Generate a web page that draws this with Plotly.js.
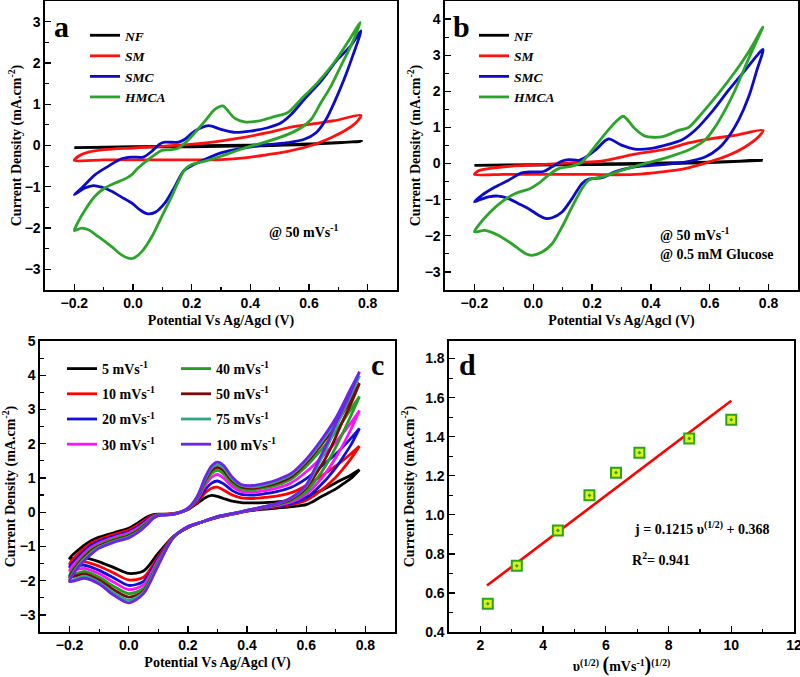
<!DOCTYPE html>
<html><head><meta charset="utf-8">
<script src="https://cdn.plot.ly/plotly-3.0.1.min.js"></script>
<style>html,body{margin:0;padding:0;background:#fff;} #chart{width:800px;height:677px;}</style>
</head><body><div id="chart"></div>
<script>
// ---------- Panel a (50 mV/s) ----------
const aNFx = [-0.2, 0.0, 0.2, 0.4, 0.6, 0.78, 0.6, 0.4, 0.2, 0.0, -0.2];
const aNFy = [-0.05, -0.03, -0.01, 0.01, 0.04, 0.1, 0.03, -0.01, -0.03, -0.04, -0.05];
const aSMx = [-0.2, -0.186, -0.152, -0.096, 0.0, 0.1, 0.232, 0.345, 0.459, 0.528, 0.607, 0.686, 0.777,
  0.76, 0.72, 0.675, 0.607, 0.528, 0.459, 0.38, 0.30, 0.2, 0.1, 0.0, -0.1, -0.2];
const aSMy = [-0.36, -0.26, -0.16, -0.10, -0.06, -0.02, 0.05, 0.16, 0.31, 0.43, 0.52, 0.60, 0.73,
  0.55, 0.35, 0.19, 0.0, -0.14, -0.22, -0.30, -0.34, -0.35, -0.35, -0.35, -0.35, -0.36];
const aSMCx = [-0.2, -0.175, -0.13, -0.084, -0.039, -0.005, 0.035, 0.064, 0.092, 0.109, 0.155, 0.177, 0.211, 0.257, 0.30, 0.345, 0.40, 0.459, 0.505, 0.539, 0.584, 0.641, 0.698, 0.743, 0.777,
  0.749, 0.72, 0.686, 0.658, 0.624, 0.584, 0.528, 0.459, 0.38, 0.30, 0.232, 0.2, 0.172, 0.143, 0.109, 0.075, 0.047, 0.024, -0.005, -0.039, -0.073, -0.107, -0.135, -0.164, -0.2];
const aSMCy = [-1.19, -1.03, -0.71, -0.50, -0.32, -0.28, -0.28, -0.14, 0.04, 0.08, 0.08, 0.15, 0.35, 0.48, 0.39, 0.32, 0.35, 0.43, 0.55, 0.75, 1.12, 1.56, 2.09, 2.42, 2.78,
  2.17, 1.61, 1.04, 0.63, 0.31, 0.15, 0.07, 0.02, -0.06, -0.18, -0.38, -0.49, -0.62, -0.99, -1.39, -1.62, -1.65, -1.56, -1.39, -1.25, -1.11, -1.01, -0.97, -1.03, -1.19];
const aHMCAx = [-0.2, -0.186, -0.164, -0.13, -0.096, -0.061, -0.022, -0.005, 0.018, 0.052, 0.075, 0.098, 0.132, 0.155, 0.177, 0.211, 0.245, 0.28, 0.306, 0.345, 0.38, 0.425, 0.482, 0.528, 0.573, 0.63, 0.686, 0.732, 0.775,
  0.743, 0.709, 0.675, 0.641, 0.607, 0.573, 0.528, 0.459, 0.38, 0.30, 0.245, 0.2, 0.177, 0.155, 0.132, 0.098, 0.064, 0.03, 0.001, -0.016, -0.039, -0.073, -0.118, -0.152, -0.175, -0.2];
const aHMCAy = [-2.06, -1.84, -1.57, -1.23, -1.03, -0.91, -0.79, -0.71, -0.54, -0.34, -0.22, -0.12, -0.10, -0.06, 0.06, 0.31, 0.59, 0.88, 0.96, 0.67, 0.57, 0.59, 0.70, 0.80, 1.12, 1.53, 2.01, 2.50, 2.98,
  2.42, 1.93, 1.44, 1.04, 0.63, 0.43, 0.27, 0.10, -0.06, -0.26, -0.38, -0.46, -0.58, -0.87, -1.23, -1.72, -2.21, -2.57, -2.73, -2.73, -2.65, -2.45, -2.21, -2.04, -2.00, -2.06];

// ---------- Panel b (50 mV/s, 0.5 mM glucose) ----------
const bNFx = [-0.2, 0.0, 0.2, 0.4, 0.6, 0.78, 0.6, 0.4, 0.2, 0.0, -0.2];
const bNFy = [-0.05, -0.03, -0.01, 0.01, 0.04, 0.09, 0.03, -0.01, -0.03, -0.04, -0.05];
const bSMx = [-0.2, -0.186, -0.152, -0.073, 0.041, 0.155, 0.232, 0.345, 0.459, 0.528, 0.607, 0.686, 0.781,
  0.766, 0.72, 0.664, 0.596, 0.516, 0.437, 0.345, 0.266, 0.2, 0.1, 0.0, -0.1, -0.2];
const bSMy = [-0.30, -0.20, -0.14, -0.07, -0.02, 0.03, 0.07, 0.26, 0.41, 0.57, 0.69, 0.78, 0.92,
  0.74, 0.46, 0.23, 0.04, -0.14, -0.23, -0.30, -0.31, -0.30, -0.30, -0.30, -0.30, -0.30];
const bSMCx = [-0.2, -0.175, -0.13, -0.084, -0.039, -0.005, 0.035, 0.064, 0.098, 0.121, 0.155, 0.177, 0.211, 0.255, 0.30, 0.345, 0.402, 0.459, 0.505, 0.55, 0.607, 0.664, 0.72, 0.781,
  0.76, 0.732, 0.698, 0.664, 0.63, 0.584, 0.516, 0.437, 0.345, 0.277, 0.234, 0.189, 0.166, 0.132, 0.098, 0.064, 0.041, 0.018, -0.016, -0.05, -0.084, -0.118, -0.152, -0.181, -0.2];
const bSMCy = [-1.06, -0.88, -0.65, -0.46, -0.26, -0.23, -0.22, -0.09, 0.07, 0.11, 0.09, 0.17, 0.37, 0.68, 0.51, 0.40, 0.42, 0.53, 0.65, 0.92, 1.43, 2.03, 2.58, 3.16,
  2.58, 1.84, 1.20, 0.74, 0.42, 0.18, 0.04, -0.03, -0.09, -0.23, -0.39, -0.43, -0.55, -0.97, -1.34, -1.50, -1.52, -1.43, -1.25, -1.11, -0.97, -0.90, -0.92, -1.0, -1.06];
const bHMCAx = [-0.2, -0.186, -0.152, -0.107, -0.061, -0.01, 0.018, 0.052, 0.086, 0.132, 0.166, 0.2, 0.245, 0.28, 0.306, 0.345, 0.38, 0.437, 0.494, 0.528, 0.573, 0.63, 0.686, 0.732, 0.781,
  0.755, 0.72, 0.686, 0.652, 0.618, 0.584, 0.539, 0.459, 0.38, 0.30, 0.234, 0.189, 0.166, 0.132, 0.098, 0.064, 0.03, -0.005, -0.027, -0.073, -0.118, -0.164, -0.2];
const bHMCAy = [-1.89, -1.71, -1.39, -1.06, -0.83, -0.69, -0.55, -0.32, -0.14, -0.07, 0.05, 0.37, 0.83, 1.15, 1.31, 0.97, 0.76, 0.74, 0.92, 1.0, 1.39, 1.94, 2.54, 3.09, 3.78,
  3.32, 2.68, 2.03, 1.48, 1.01, 0.65, 0.42, 0.18, 0.0, -0.19, -0.37, -0.46, -0.69, -1.2, -1.75, -2.22, -2.45, -2.54, -2.49, -2.22, -1.99, -1.85, -1.89];

// ---------- Panel c (HMCA at scan rates) ----------
const cRates = ['5', '10', '20', '30', '40', '50', '75', '100'];
const cUpX = [-0.2, -0.17, -0.13, -0.1, -0.05, 0.0, 0.03, 0.06, 0.08, 0.1, 0.13, 0.16, 0.2, 0.23, 0.26, 0.28, 0.3, 0.32, 0.35, 0.38, 0.42, 0.46, 0.5, 0.55, 0.6, 0.65, 0.7, 0.75, 0.78];
const cLoX = [0.78, 0.75, 0.72, 0.7, 0.67, 0.65, 0.62, 0.6, 0.55, 0.5, 0.45, 0.4, 0.35, 0.3, 0.25, 0.2, 0.15, 0.1, 0.05, 0.0, -0.05, -0.1, -0.15, -0.2];
const cUp5   = [-1.35, -1.10, -0.85, -0.73, -0.60, -0.47, -0.32, -0.15, -0.08, -0.06, -0.06, -0.03, 0.08, 0.25, 0.43, 0.49, 0.46, 0.40, 0.32, 0.28, 0.27, 0.28, 0.30, 0.35, 0.44, 0.63, 0.86, 1.08, 1.24];
const cUp10  = [-1.51, -1.20, -0.92, -0.80, -0.65, -0.52, -0.38, -0.20, -0.10, -0.07, -0.06, -0.03, 0.08, 0.28, 0.58, 0.70, 0.73, 0.65, 0.50, 0.42, 0.40, 0.43, 0.47, 0.57, 0.78, 1.05, 1.35, 1.70, 1.93];
const cUp20  = [-1.60, -1.30, -0.98, -0.85, -0.70, -0.57, -0.43, -0.24, -0.12, -0.07, -0.07, -0.04, 0.09, 0.32, 0.68, 0.85, 0.91, 0.83, 0.63, 0.52, 0.50, 0.54, 0.60, 0.73, 0.98, 1.33, 1.70, 2.15, 2.45];
const cUp30  = [-1.70, -1.38, -1.05, -0.90, -0.74, -0.61, -0.47, -0.28, -0.14, -0.08, -0.07, -0.04, 0.09, 0.35, 0.80, 1.02, 1.10, 1.00, 0.75, 0.61, 0.58, 0.63, 0.70, 0.86, 1.18, 1.58, 2.05, 2.60, 2.97];
const cUp40  = [-1.85, -1.45, -1.10, -0.95, -0.78, -0.65, -0.51, -0.31, -0.16, -0.08, -0.07, -0.04, 0.10, 0.38, 0.88, 1.13, 1.22, 1.12, 0.84, 0.68, 0.65, 0.71, 0.79, 0.97, 1.34, 1.82, 2.35, 3.00, 3.38];
const cUp50  = [-1.90, -1.50, -1.15, -0.99, -0.82, -0.69, -0.55, -0.34, -0.18, -0.09, -0.08, -0.04, 0.10, 0.40, 0.95, 1.22, 1.31, 1.22, 0.91, 0.74, 0.70, 0.76, 0.85, 1.04, 1.44, 1.96, 2.55, 3.30, 3.77];
const cUp75  = [-2.00, -1.55, -1.20, -1.02, -0.85, -0.72, -0.58, -0.36, -0.19, -0.09, -0.08, -0.04, 0.11, 0.42, 1.00, 1.29, 1.39, 1.30, 0.97, 0.78, 0.74, 0.80, 0.90, 1.10, 1.50, 2.03, 2.67, 3.50, 3.99];
const cUp100 = [-2.03, -1.60, -1.25, -1.05, -0.88, -0.75, -0.60, -0.38, -0.20, -0.10, -0.08, -0.04, 0.12, 0.44, 1.05, 1.35, 1.46, 1.37, 1.02, 0.81, 0.78, 0.84, 0.94, 1.14, 1.55, 2.10, 2.75, 3.60, 4.10];
const cLo5   = [1.24, 0.98, 0.80, 0.68, 0.54, 0.45, 0.30, 0.22, 0.16, 0.12, 0.08, 0.03, -0.06, -0.15, -0.28, -0.45, -0.72, -1.20, -1.72, -1.79, -1.62, -1.45, -1.33, -1.35];
const cLo10  = [1.93, 1.55, 1.22, 1.02, 0.78, 0.64, 0.45, 0.35, 0.22, 0.15, 0.10, 0.03, -0.06, -0.15, -0.28, -0.45, -0.72, -1.30, -1.90, -1.98, -1.78, -1.58, -1.45, -1.51];
const cLo20  = [2.45, 1.95, 1.55, 1.30, 0.98, 0.80, 0.55, 0.42, 0.25, 0.17, 0.11, 0.04, -0.05, -0.14, -0.28, -0.44, -0.73, -1.35, -2.02, -2.14, -1.92, -1.70, -1.55, -1.60];
const cLo30  = [2.97, 2.40, 1.90, 1.60, 1.20, 0.97, 0.68, 0.52, 0.30, 0.19, 0.12, 0.04, -0.05, -0.14, -0.28, -0.44, -0.73, -1.40, -2.12, -2.26, -2.05, -1.80, -1.64, -1.70];
const cLo40  = [3.38, 2.80, 2.25, 1.90, 1.42, 1.15, 0.80, 0.60, 0.34, 0.21, 0.13, 0.05, -0.05, -0.14, -0.28, -0.43, -0.74, -1.45, -2.22, -2.38, -2.17, -1.90, -1.73, -1.85];
const cLo50  = [3.77, 3.15, 2.60, 2.20, 1.65, 1.35, 0.95, 0.70, 0.38, 0.23, 0.14, 0.05, -0.04, -0.13, -0.28, -0.43, -0.74, -1.48, -2.30, -2.48, -2.27, -1.98, -1.80, -1.90];
const cLo75  = [3.99, 3.40, 2.85, 2.45, 1.90, 1.55, 1.05, 0.76, 0.41, 0.24, 0.15, 0.05, -0.04, -0.13, -0.28, -0.42, -0.75, -1.50, -2.34, -2.57, -2.36, -2.05, -1.87, -2.00];
const cLo100 = [4.10, 3.50, 2.95, 2.60, 2.00, 1.65, 1.12, 0.80, 0.43, 0.25, 0.15, 0.05, -0.04, -0.13, -0.28, -0.42, -0.75, -1.55, -2.38, -2.65, -2.43, -2.10, -1.93, -2.03];

// ---------- Panel d (peak current vs sqrt scan rate) ----------
const dX = [2.236, 3.162, 4.472, 5.477, 6.325, 7.071, 8.660, 10.0];
const dY = [0.545, 0.739, 0.920, 1.100, 1.216, 1.318, 1.391, 1.487];
const dFitX = [2.21, 10.0];
const dFitY = [0.638, 1.584];

// ---------- styling ----------
const W = 800, H = 677;
const PX = v => v / W, PY = v => 1 - v / H;
const SANS = 'Liberation Sans, Arial, sans-serif';
const SERIF = 'Liberation Serif, Times New Roman, serif';
const tickFont = {family: SANS, size: 14, color: '#000', weight: 'bold'};
const titleFont = {family: SERIF, size: 14, color: '#000', weight: 'bold'};

function ax(domain, anchor, range, dtick, mdtick, fmt, title, standoff) {
  return {
    domain: domain, anchor: anchor, range: range, autorange: false,
    dtick: dtick, tick0: 0, tickformat: fmt, ticks: 'inside', ticklen: 6, tickwidth: 1.3, tickcolor: '#000',
    minor: {dtick: mdtick, ticks: 'inside', ticklen: 3.5, tickwidth: 1.2, tickcolor: '#000', showgrid: false},
    showline: true, mirror: true, linewidth: 1.6, linecolor: '#000', ticklabeloverflow: 'allow',
    showgrid: false, zeroline: false, tickfont: tickFont, automargin: false,
    title: {text: title, font: titleFont, standoff: standoff}
  };
}
const xT = 'Potential Vs Ag/Agcl (V)';
const yT = 'Current Density (mA.cm<sup>-2</sup>)';

const dxA = [PX(45), PX(397)], dyA = [PY(290), PY(1)];
const dxB = [PX(445), PX(798)];
const dxC = [PX(40), PX(395)], dyC = [PY(632), PY(341)];
const dxD = [PX(449), PX(794)];

const colA = {NF: '#000000', SM: '#ff1010', SMC: '#0c0cc8', HMCA: '#2aa52a'};
const cColors = ['#000000', '#ff0000', '#1010d8', '#ff10ff', '#20a020', '#7a0a0a', '#30a585', '#6e24e6'];
const cUps = [cUp5, cUp10, cUp20, cUp30, cUp40, cUp50, cUp75, cUp100];
const cLos = [cLo5, cLo10, cLo20, cLo30, cLo40, cLo50, cLo75, cLo100];

const traces = [];
function cv(x, y, name, color, xa, ya, leg, grp) {
  traces.push({x: x, y: y, xaxis: xa, yaxis: ya, mode: 'lines', name: name, legend: leg, legendgroup: grp,
    line: {color: color, width: 2.8, shape: 'spline', smoothing: 0.8}, hoverinfo: 'skip'});
}
cv(aNFx, aNFy, 'NF', colA.NF, 'x', 'y', 'legend', 'a1');
cv(aSMx, aSMy, 'SM', colA.SM, 'x', 'y', 'legend', 'a2');
cv(aSMCx, aSMCy, 'SMC', colA.SMC, 'x', 'y', 'legend', 'a3');
cv(aHMCAx, aHMCAy, 'HMCA', colA.HMCA, 'x', 'y', 'legend', 'a4');
cv(bNFx, bNFy, 'NF', colA.NF, 'x2', 'y2', 'legend2', 'b1');
cv(bSMx, bSMy, 'SM', colA.SM, 'x2', 'y2', 'legend2', 'b2');
cv(bSMCx, bSMCy, 'SMC', colA.SMC, 'x2', 'y2', 'legend2', 'b3');
cv(bHMCAx, bHMCAy, 'HMCA', colA.HMCA, 'x2', 'y2', 'legend2', 'b4');
for (let i = 0; i < cRates.length; i++) {
  cv(cUpX.concat(cLoX), cUps[i].concat(cLos[i]), cRates[i] + ' mVs<sup>-1</sup>', cColors[i], 'x3', 'y3',
     i < 4 ? 'legend3' : 'legend4', 'c' + i);
}
traces.push({x: dFitX, y: dFitY, xaxis: 'x4', yaxis: 'y4', mode: 'lines', showlegend: false,
  line: {color: '#ff0000', width: 2.6}, hoverinfo: 'skip'});
traces.push({x: dX, y: dY, xaxis: 'x4', yaxis: 'y4', mode: 'markers', showlegend: false,
  marker: {symbol: 'square-dot', size: 10, color: '#dcf01a', line: {color: '#2aa51a', width: 2}}, hoverinfo: 'skip'});

const legA = {font: {family: SERIF, size: 13.5, color: '#000', weight: 'bold', style: 'italic'},
  bgcolor: 'rgba(0,0,0,0)', borderwidth: 0, xanchor: 'left', yanchor: 'top', traceorder: 'grouped', tracegroupgap: 0};
const legC = {font: {family: SERIF, size: 14, color: '#000', weight: 'bold'},
  bgcolor: 'rgba(0,0,0,0)', borderwidth: 0, xanchor: 'left', yanchor: 'top', traceorder: 'grouped', tracegroupgap: 4};

const annFont = (s) => ({family: SERIF, size: s, color: '#000', weight: 'bold'});
function ann(text, x, y, size, xanchor) {
  return {text: text, xref: 'paper', yref: 'paper', x: PX(x), y: PY(y), xanchor: xanchor || 'center', yanchor: 'middle',
    showarrow: false, font: annFont(size)};
}

const layout = {
  width: W, height: H, margin: {l: 0, r: 0, t: 0, b: 0}, paper_bgcolor: '#fff', plot_bgcolor: '#fff',
  hovermode: false, showlegend: true,
  xaxis: ax(dxA, 'y', [-0.3, 0.9], 0.2, 0.1, '.1f', xT, 5),
  yaxis: ax(dyA, 'x', [-3.5, 3.5], 1, 0.5, 'd', yT, 0),
  xaxis2: ax(dxB, 'y2', [-0.3, 0.9], 0.2, 0.1, '.1f', xT, 5),
  yaxis2: ax(dyA, 'x2', [-3.5, 4.5], 1, 0.5, 'd', yT, 1),
  xaxis3: ax(dxC, 'y3', [-0.3, 0.9], 0.2, 0.1, '.1f', xT, 5),
  yaxis3: ax(dyC, 'x3', [-3.5, 5], 1, 0.5, 'd', yT, 7),
  xaxis4: ax(dxD, 'y4', [1, 12], 2, 1, 'd',
    'υ<sup>(1/2)</sup> <span style="font-size:20px">(</span>mVs<sup>-1</sup><span style="font-size:20px">)</span><sup>(1/2)</sup>', 3),
  yaxis4: ax(dyC, 'x4', [0.4, 1.89], 0.2, 0.1, '.1f', yT, 7),
  legend: Object.assign({}, legA, {x: PX(85), y: PY(20)}),
  legend2: Object.assign({}, legA, {x: PX(474), y: PY(20)}),
  legend3: Object.assign({}, legC, {x: PX(62), y: PY(353)}),
  legend4: Object.assign({}, legC, {x: PX(176), y: PY(353)}),
  annotations: [
    ann('a', 61.5, 26, 30), ann('b', 461.5, 26, 30), ann('c', 377, 364, 30), ann('d', 467.5, 364, 30),
    ann('@ 50 mVs<sup>-1</sup>', 267, 231, 14, 'left'),
    ann('@ 50 mVs<sup>-1</sup>', 658, 234, 14, 'left'),
    ann('@ 0.5 mM Glucose', 658, 255, 14, 'left'),
    ann('j = 0.1215 υ<sup>(1/2)</sup> + 0.368', 632, 528, 14, 'left'),
    ann('R<sup>2</sup>= 0.941', 630, 559, 14, 'left')
  ]
};

Plotly.newPlot('chart', traces, layout, {staticPlot: true, displayModeBar: false});
</script>
</body></html>
